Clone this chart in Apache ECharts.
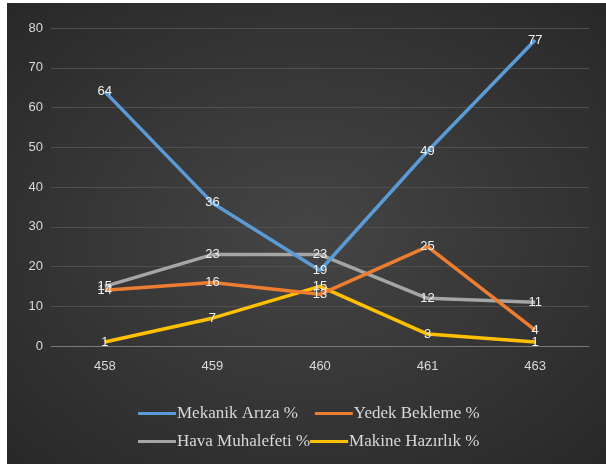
<!DOCTYPE html>
<html><head><meta charset="utf-8">
<script src="https://cdn.jsdelivr.net/npm/echarts@6/dist/echarts.min.js"></script>
<style>
html,body{margin:0;padding:0;background:#fff;}
#bg{position:absolute;left:7px;top:3px;width:599px;height:461px;
background:radial-gradient(ellipse at 50% 50%, #454545 0%, #383838 45%, #282828 100%);}
#c{position:absolute;left:0;top:0;width:606px;height:464px;}
</style></head>
<body><div id="bg"></div><div id="c"></div>
<script>
const categories = ['458','459','460','461','463'];
const mekanik = [64, 36, 19, 49, 77];
const yedek = [14, 16, 13, 25, 4];
const hava = [15, 23, 23, 12, 11];
const makine = [1, 7, 15, 3, 1];
const seriesNames = ['Mekanik Arıza %','Yedek Bekleme %','Hava Muhalefeti %','Makine Hazırlık %'];
const colors = ['#5b9bd5','#ed7d31','#a5a5a5','#ffc000'];
const chart = echarts.init(document.getElementById('c'));
const lbl = {show:true, position:'inside', color:'#f0f0f0', fontSize:13, fontFamily:'Liberation Sans, Arial, sans-serif'};
function mk(name, data, i){
  return {name, type:'line', data, symbol:'circle', symbolSize:2, showSymbol:true,
    lineStyle:{width:3.5, color:colors[i]}, itemStyle:{color:'transparent', borderWidth:0},
    label:lbl, labelLayout:{hideOverlap:false}, z: 10-i};
}
const legText = {color:'#d9d9d9', fontSize:17, fontFamily:'Liberation Serif, Times New Roman, serif'};
function legItem(i){ return {name:seriesNames[i], itemStyle:{color:colors[i], opacity:1}}; }
chart.setOption({
  animation:false,
  backgroundColor:'transparent',
  grid:{left:51, right:17, top:28, bottom:118, containLabel:false},
  xAxis:{type:'category', data:categories, boundaryGap:true,
    axisLine:{lineStyle:{color:'#7a7a7a', width:1}}, axisTick:{show:false},
    axisLabel:{color:'#d9d9d9', fontSize:13, margin:14, fontFamily:'Liberation Sans, Arial, sans-serif'}},
  yAxis:{type:'value', min:0, max:80, interval:10,
    axisLine:{show:false}, axisTick:{show:false},
    splitLine:{lineStyle:{color:'#4f4f4f', width:1}},
    axisLabel:{color:'#d9d9d9', fontSize:13, margin:8, fontFamily:'Liberation Sans, Arial, sans-serif'}},
  legend:[
    {data:[legItem(0), legItem(1)], left:133, top:400, itemWidth:38, itemHeight:3, itemGap:17, icon:'rect',
     textStyle:Object.assign({padding:[0,0,0,-4]}, legText)},
    {data:[legItem(2), legItem(3)], left:133, top:428, itemWidth:38, itemHeight:3, itemGap:0, icon:'rect',
     textStyle:Object.assign({padding:[0,0,0,-4]}, legText)}
  ],
  series:[mk(seriesNames[0], mekanik, 0), mk(seriesNames[1], yedek, 1), mk(seriesNames[2], hava, 2), mk(seriesNames[3], makine, 3)]
});
</script></body></html>
